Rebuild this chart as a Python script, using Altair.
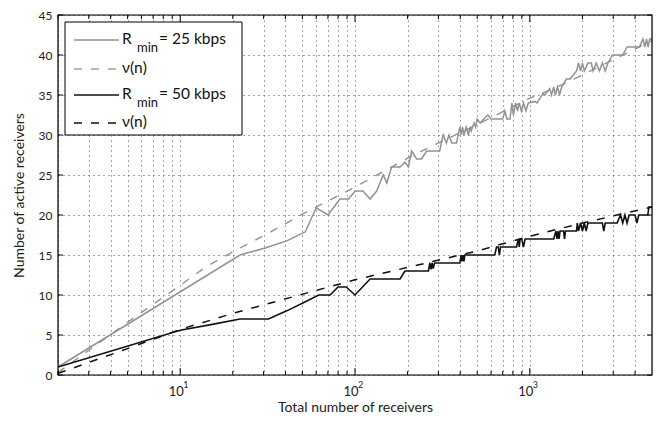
import altair as alt
import pandas as pd

# ---------------- data ----------------
n_grey = [2, 22, 31, 41, 52, 60, 70, 82, 92, 100, 111, 122, 133, 145, 152, 162, 181, 193,
          202, 211, 225, 240, 257, 305, 319, 333, 345, 358, 381, 398, 405, 412, 420, 432,
          445, 455, 462, 470, 480, 490, 500, 520, 545, 575, 600, 640, 670, 700, 720, 740,
          770, 790, 805, 830, 850, 870, 895, 920, 950, 980, 1070, 1100, 1190, 1220, 1300,
          1330, 1370, 1400, 1440, 1480, 1520, 1620, 1700, 1850, 1900, 1950, 2000, 2050,
          2150, 2250, 2300, 2400, 2500, 2600, 2700, 2800, 2970, 3200, 3400, 3600, 3900,
          4240, 4430, 4550, 4650, 4750, 4850, 5000]
v_grey = [1, 15, 15.9, 16.8, 17.9, 20.9, 20, 22, 22, 23, 23, 22, 23, 25, 24, 26, 26, 26.6,
          26, 28, 27, 27, 28, 28, 30, 29, 30, 29, 29, 31, 30, 31, 30, 31,
          30, 31, 30.5, 31, 31.5, 31, 32, 31.5, 32, 32.5, 32, 32, 32, 32, 33, 32,
          32, 34, 32.5, 34, 33, 34, 33, 34, 33, 34, 34.2, 34, 35.2, 35, 35.8,
          35, 36, 35, 36, 35, 36, 37, 37, 38, 39, 38, 39, 38,
          39, 39, 38, 39, 38, 39, 38, 39, 40, 40, 40, 41, 41,
          41, 42, 41, 42, 41, 42, 42]

n_grey_nu = [2, 5, 10, 14, 20, 30, 50, 100, 200, 300, 500, 1000, 1500, 2000, 5000]
v_grey_nu = [0.3, 6.6, 11.2, 13.5, 15.4, 17.4, 20.1, 23.5, 27.1, 29.0, 31.3, 34.6, 36.2, 37.5, 41.8]

n_black = [2, 10, 15, 22, 32, 41, 51, 62, 72, 80, 89, 100, 122, 181, 193, 263, 268, 272,
           276, 280, 285, 398, 405, 410, 415, 420, 425, 443, 630, 645, 660, 670, 680, 840,
           860, 870, 880, 900, 920, 940, 1370, 1410, 1430, 1450, 1470, 1490, 1560, 1580,
           1600, 1850, 1870, 1900, 1950, 2000, 2050, 2100, 2150, 2250, 2600, 2650, 2700,
           3160, 3300, 3400, 3500, 3600, 3700, 4000, 4100, 4200, 4730, 4800, 5000]
v_black = [1, 5.6, 6.3, 7, 7, 8.05, 9.07, 10, 10, 11, 11, 10, 12, 12, 13, 13, 14, 13.2,
           14, 13.3, 14, 14, 15, 14.2, 15, 14.2, 15, 15, 15, 16, 16, 15, 16, 16,
           17, 16, 17, 17, 16, 17, 17, 18, 17, 18, 17, 18, 18, 17,
           18, 18, 19, 18, 19, 18, 19, 18, 19, 19, 19, 18, 19,
           19, 20, 19, 20, 19, 20, 20, 19, 20, 20, 21, 21]

n_black_nu = [2, 5, 10, 20, 50, 100, 200, 500, 1000, 2000, 5000]
v_black_nu = [0.2, 3.3, 5.7, 7.7, 10.1, 11.9, 13.45, 15.5, 17.35, 19.0, 21.0]

x_major_ticks = [10, 100, 1000]
x_minor_ticks = [2, 3, 4, 5, 6, 7, 8, 9, 20, 30, 40, 50, 60, 70, 80, 90,
                 200, 300, 400, 500, 600, 700, 800, 900, 2000, 3000, 4000]
x_label_base = ["10", "10", "10"]
x_label_exp = ["1", "2", "3"]
y_ticks = [0, 5, 10, 15, 20, 25, 30, 35, 40, 45]

legend_main = ["R", "ν(n)", "R", "ν(n)"]
legend_sub = ["min", "", "min", ""]
legend_rest = ["= 25 kbps", "", "= 50 kbps", ""]
legend_colors = ["#929292", "#a0a0a0", "#111111", "#111111"]
legend_dashed = [False, True, False, True]

# ---------------- layout ----------------
W, H = 594, 360
FONT = "Lato"
GREY = "#929292"
BLACK = "#111111"
DASH = [8, 9]
GRID = dict(grid=True, gridDash=[1, 4], gridColor="#4a4a4a", gridWidth=1)

all_x_ticks = sorted(x_major_ticks + x_minor_ticks)

xs = alt.Scale(type="log", domain=[2, 5000], nice=False)
ys = alt.Scale(domain=[0, 45], nice=False)

x_axis = alt.Axis(values=all_x_ticks, labels=False, **GRID,
                  ticks=False, domain=False,
                  title="Total number of receivers",
                  titleFontSize=14, titleFontWeight="normal", titlePadding=25,
                  titleColor="#222")
y_axis = alt.Axis(values=y_ticks, **GRID, ticks=False, domain=False, labelFontSize=12,
                  labelPadding=6, labelColor="#222",
                  title="Number of active receivers", titleFontSize=14,
                  titleFontWeight="normal", titlePadding=12, titleColor="#222")

x_enc = alt.X("n:Q", scale=xs, axis=x_axis)
y_enc = alt.Y("v:Q", scale=ys, axis=y_axis)


def series(ns, vs):
    return pd.DataFrame({"n": ns, "v": vs})


layers = []
layers.append(alt.Chart(series(n_grey_nu, v_grey_nu)).mark_line(
    color=GREY, strokeWidth=1.4, strokeDash=DASH, clip=True).encode(x=x_enc, y=y_enc))
layers.append(alt.Chart(series(n_grey, v_grey)).mark_line(
    color=GREY, strokeWidth=1.5, clip=True).encode(x=x_enc, y=y_enc))
layers.append(alt.Chart(series(n_black_nu, v_black_nu)).mark_line(
    color=BLACK, strokeWidth=1.5, strokeDash=DASH, clip=True).encode(x=x_enc, y=y_enc))
layers.append(alt.Chart(series(n_black, v_black)).mark_line(
    color=BLACK, strokeWidth=1.6, clip=True).encode(x=x_enc, y=y_enc))

# ticks (inward, all four sides)
maj = pd.DataFrame({"n": x_major_ticks, "base": x_label_base, "exp": x_label_exp})
mnr = pd.DataFrame({"n": x_minor_ticks})
yt = pd.DataFrame({"v": y_ticks})
for df, ln in ((maj, 7), (mnr, 4)):
    layers.append(alt.Chart(df).mark_rule(color="black", strokeWidth=1).encode(
        x=x_enc, y=alt.value(H), y2=alt.value(H - ln)))
    layers.append(alt.Chart(df).mark_rule(color="black", strokeWidth=1).encode(
        x=x_enc, y=alt.value(0), y2=alt.value(ln)))
layers.append(alt.Chart(yt).mark_rule(color="black", strokeWidth=1).encode(
    y=y_enc, x=alt.value(0), x2=alt.value(5)))
layers.append(alt.Chart(yt).mark_rule(color="black", strokeWidth=1).encode(
    y=y_enc, x=alt.value(W - 5), x2=alt.value(W)))

# x tick labels 10^k
layers.append(alt.Chart(maj).mark_text(
    align="center", baseline="middle", fontSize=13, font=FONT, color="#222", dx=-4).encode(
    x=x_enc, y=alt.value(H + 17), text="base:N"))
layers.append(alt.Chart(maj).mark_text(
    align="left", baseline="middle", fontSize=9, font=FONT, color="#222", dx=3).encode(
    x=x_enc, y=alt.value(H + 10), text="exp:N"))

# legend
one = pd.DataFrame({"d": [0]})
layers.append(alt.Chart(one).mark_rect(fill="white", stroke="black", strokeWidth=1).encode(
    x=alt.value(7), x2=alt.value(184), y=alt.value(7), y2=alt.value(120)))
row_y = [25, 54, 80, 108]
for i in range(4):
    ry = row_y[i]
    kw = dict(color=legend_colors[i], strokeWidth=1.4)
    if legend_dashed[i]:
        kw["strokeDash"] = DASH
    layers.append(alt.Chart(one).mark_rule(**kw).encode(
        x=alt.value(16), x2=alt.value(61), y=alt.value(ry)))
    layers.append(alt.Chart(one).mark_text(
        text=legend_main[i], align="left", baseline="middle", fontSize=15.5,
        font=FONT, color="#111").encode(x=alt.value(64), y=alt.value(ry - 1)))
    if legend_sub[i]:
        layers.append(alt.Chart(one).mark_text(
            text=legend_sub[i], align="left", baseline="middle", fontSize=13,
            font=FONT, color="#111").encode(x=alt.value(79), y=alt.value(ry + 8)))
    if legend_rest[i]:
        layers.append(alt.Chart(one).mark_text(
            text=legend_rest[i], align="left", baseline="middle", fontSize=15.5,
            font=FONT, color="#111").encode(x=alt.value(101), y=alt.value(ry - 1)))

# frame
layers.append(alt.Chart(one).mark_rect(filled=False, stroke="black", strokeWidth=1.2).encode(
    x=alt.value(0), x2=alt.value(W), y=alt.value(0), y2=alt.value(H)))

chart = alt.layer(*layers).properties(
    width=W, height=H,
    autosize=alt.AutoSizeParams(type="none"),
    padding={"left": 50, "top": 7, "right": 7, "bottom": 44},
).configure_view(stroke=None).configure(font=FONT)

chart.save("out.html", embed_options={"renderer": "svg", "actions": False})
